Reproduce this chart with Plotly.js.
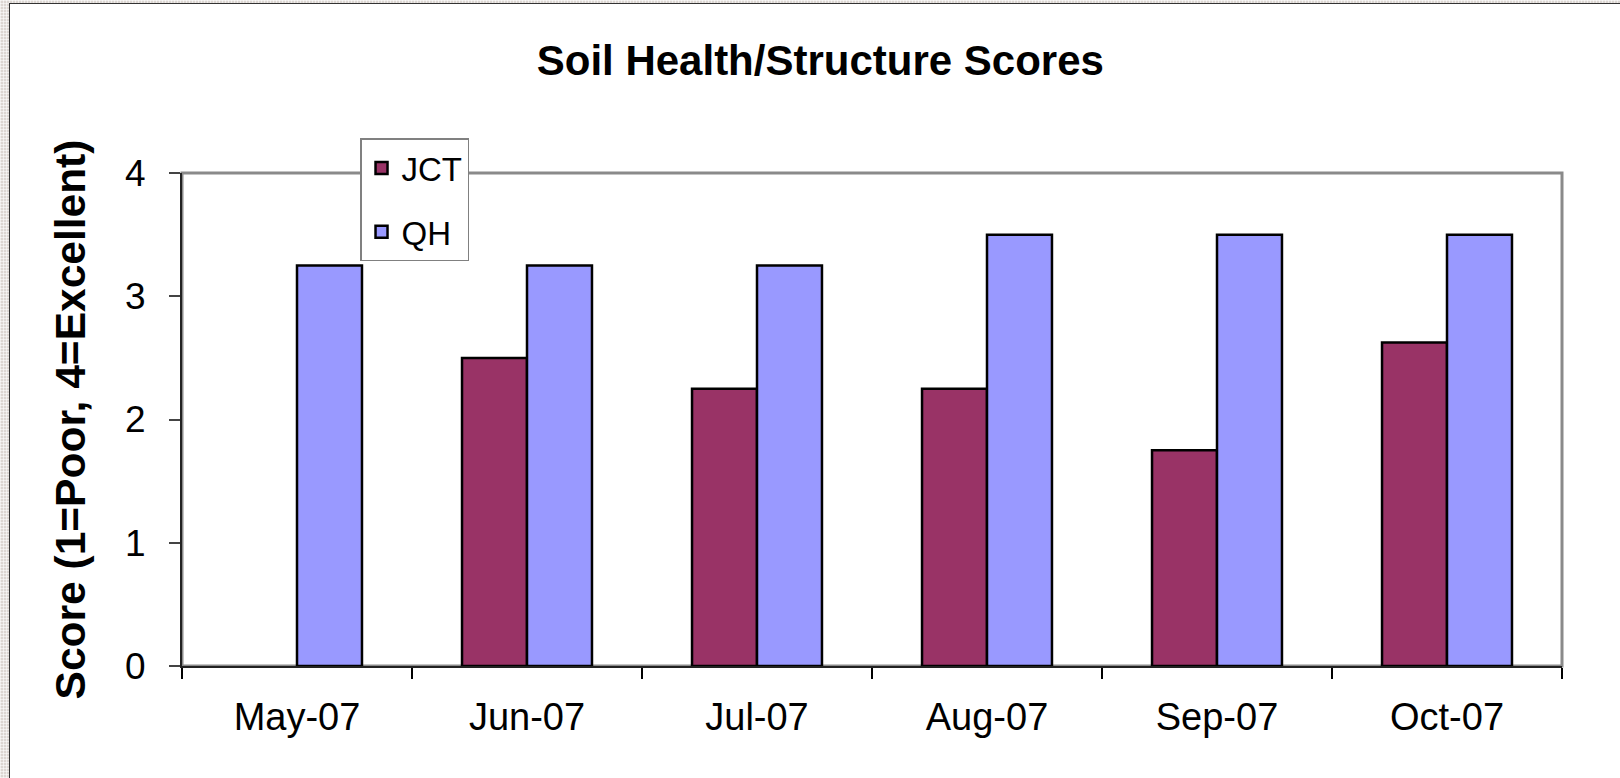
<!DOCTYPE html>
<html>
<head>
<meta charset="utf-8">
<script src="https://cdn.plot.ly/plotly-3.0.1.min.js"></script>
<style>
  html, body { margin: 0; padding: 0; }
  body {
    width: 1620px; height: 778px; overflow: hidden; position: relative;
    background-color: #dcd6d2;
    background-image:
      repeating-linear-gradient(0deg, rgba(255,255,255,0.55) 0 1px, transparent 1px 3px),
      repeating-linear-gradient(90deg, rgba(255,255,255,0.55) 0 1px, transparent 1px 3px);
  }
  #frame {
    position: absolute; left: 9px; top: 3px;
    border-left: 1px solid #333; border-top: 1px solid #333;
    background: #fff;
  }
</style>
</head>
<body>
<div id="frame"><div id="soil-chart"></div></div>
<script>
// months and scores
var months = ['May-07', 'Jun-07', 'Jul-07', 'Aug-07', 'Sep-07', 'Oct-07'];
var jctScores = [null, 2.5, 2.25, 2.25, 1.75, 2.625];
var qhScores = [3.25, 3.25, 3.25, 3.5, 3.5, 3.5];
var yTicks = [0, 1, 2, 3, 4];

var fontFam = '"Liberation Sans", Arial, sans-serif';

function createSoilChart() {
    var jct = {
        x: months,
        y: jctScores,
        name: 'JCT',
        type: 'bar',
        legendgroup: 'a',
        marker: { color: '#993366', line: { color: '#000', width: 2.5 } }
    };
    var qh = {
        x: months,
        y: qhScores,
        name: 'QH',
        type: 'bar',
        legendgroup: 'b',
        marker: { color: '#9999FF', line: { color: '#000', width: 2.5 } }
    };

    var layout = {
        width: 1611,
        height: 775,
        margin: { l: 172, r: 59, t: 169, b: 113 },
        paper_bgcolor: '#fff',
        plot_bgcolor: '#fff',
        font: { family: fontFam, color: '#000' },
        title: {
            text: '<b>Soil Health/Structure Scores</b>',
            font: { size: 42, family: fontFam, color: '#000' },
            xref: 'container', x: 0.503, xanchor: 'center',
            yref: 'container', y: 0.928, yanchor: 'middle'
        },
        barmode: 'group',
        bargap: 0.435,
        bargroupgap: 0,
        showlegend: true,
        legend: {
            x: 0.129, y: 1.07, xanchor: 'left', yanchor: 'top',
            bgcolor: '#fff', bordercolor: '#808080', borderwidth: 1.5,
            font: { size: 33, family: fontFam },
            traceorder: 'grouped', tracegroupgap: 18
        },
        xaxis: {
            type: 'category',
            tickson: 'boundaries',
            ticks: 'outside', ticklen: 11, tickwidth: 1.5, tickcolor: '#000',
            showline: true, linecolor: '#222', linewidth: 2,
            showgrid: false, zeroline: false,
            tickfont: { size: 38, family: fontFam },
            ticklabelstandoff: 16
        },
        yaxis: {
            range: [0, 4],
            tickvals: yTicks,
            ticks: 'outside', ticklen: 11, tickwidth: 1.5, tickcolor: '#444',
            showline: true, linecolor: '#222', linewidth: 2,
            showgrid: false, zeroline: false,
            tickfont: { size: 37, family: fontFam },
            ticklabelstandoff: 16,
            title: {
                text: '<b>Score (1=Poor, 4=Excellent)</b>',
                font: { size: 42.5, family: fontFam },
                standoff: 26
            }
        },
        shapes: [{
            type: 'rect', xref: 'paper', yref: 'paper',
            x0: 0, x1: 1, y0: 0, y1: 1,
            line: { color: '#8a8a8a', width: 3 },
            layer: 'below'
        }]
    };

    Plotly.newPlot('soil-chart', [jct, qh], layout, { displayModeBar: false });
}

createSoilChart();
</script>
</body>
</html>
